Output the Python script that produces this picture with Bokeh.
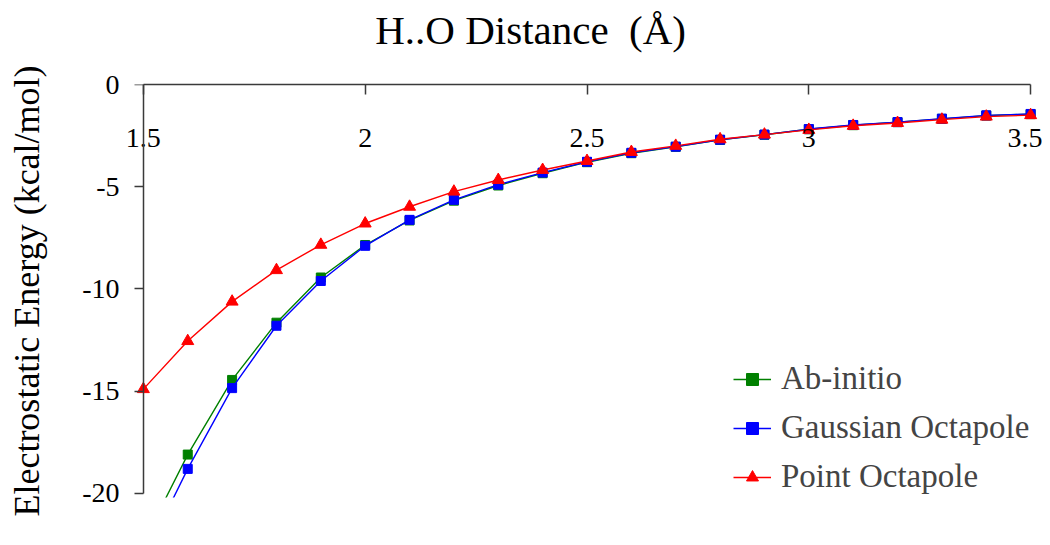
from bokeh.plotting import figure
from bokeh.models import Range1d, LinearAxis, FixedTicker, Legend, LegendItem
from bokeh.embed import file_html
from bokeh.resources import INLINE

# ---- data ----
distance = [1.5, 1.6, 1.7, 1.8, 1.9, 2.0, 2.1, 2.2, 2.3, 2.4, 2.5,
            2.6, 2.7, 2.8, 2.9, 3.0, 3.1, 3.2, 3.3, 3.4, 3.5]
ab_initio = [-22.4, -18.1, -14.45, -11.65, -9.44, -7.85, -6.65, -5.68, -4.94, -4.34, -3.80,
             -3.36, -3.05, -2.71, -2.46, -2.19, -1.99, -1.84, -1.68, -1.52, -1.45]
gaussian = [-23.2, -18.8, -14.85, -11.8, -9.61, -7.89, -6.62, -5.64, -4.90, -4.31, -3.78,
            -3.34, -3.04, -2.70, -2.45, -2.18, -1.98, -1.84, -1.67, -1.51, -1.44]
point_oct = [-14.9, -12.55, -10.62, -9.08, -7.84, -6.80, -5.98, -5.24, -4.67, -4.18, -3.74,
             -3.30, -3.00, -2.68, -2.45, -2.22, -2.02, -1.88, -1.72, -1.57, -1.50]

x_ticks = [1.5, 2.0, 2.5, 3.0, 3.5]
x_tick_labels = ["1.5", "2", "2.5", "3", "3.5"]
y_ticks = [-20, -15, -10, -5, 0]
y_tick_labels = ["-20", "-15", "-10", "-5", "0"]

title_text = "H..O Distance \u00a0(\u00c5)"
y_label = "Electrostatic Energy (kcal/mol)"
series_names = ["Ab-initio", "Gaussian Octapole", "Point Octapole"]

FONT = "Liberation Serif"
AXIS_COLOR = "#3a3a3a"

p = figure(width=1042, height=537,
           x_range=Range1d(1.48, 3.52), y_range=Range1d(-20.2, 0),
           x_axis_location=None, y_axis_location=None,
           output_backend="svg", toolbar_location=None,
           min_border_left=134, min_border_right=3,
           min_border_top=84, min_border_bottom=40)
p.title.visible = False
p.outline_line_color = None
p.grid.visible = False
p.background_fill_color = "white"
p.border_fill_color = "white"

xaxis = LinearAxis(ticker=FixedTicker(ticks=x_ticks),
                   major_label_overrides=dict(zip(x_ticks, x_tick_labels)),
                   bounds=(1.5, 3.5),
                   major_tick_in=10, major_tick_out=0,
                   minor_tick_in=0, minor_tick_out=0,
                   major_label_standoff=-62,
                   axis_line_color=AXIS_COLOR, axis_line_width=1.5,
                   major_tick_line_color=AXIS_COLOR, major_tick_line_width=1.5,
                   major_label_text_font=FONT, major_label_text_font_size="28px",
                   major_label_text_color="black")
p.add_layout(xaxis, "above")

# invisible axis that only carries the chart title
# (trailing no-break spaces shift the centred title left, as in the original)
title_axis = LinearAxis(ticker=FixedTicker(ticks=[]),
                        axis_line_color=None, major_tick_line_color=None,
                        minor_tick_line_color=None,
                        major_tick_in=0, major_tick_out=0,
                        minor_tick_in=0, minor_tick_out=0,
                        axis_label=title_text + "\u00a0" * 11, axis_label_standoff=32,
                        axis_label_text_font=FONT, axis_label_text_font_size="41px",
                        axis_label_text_font_style="normal", axis_label_text_color="black")
p.add_layout(title_axis, "above")

# label-only axis at the frame edge (tick labels + axis title)
ylabels = LinearAxis(ticker=FixedTicker(ticks=y_ticks),
                     major_label_overrides=dict(zip(y_ticks, y_tick_labels)),
                     axis_line_color=None, major_tick_line_color=None,
                     minor_tick_line_color=None,
                     major_tick_in=0, major_tick_out=0,
                     minor_tick_in=0, minor_tick_out=0,
                     major_label_standoff=15,
                     major_label_text_font=FONT, major_label_text_font_size="28px",
                     major_label_text_color="black",
                     axis_label=y_label, axis_label_standoff=32,
                     axis_label_text_font=FONT, axis_label_text_font_size="36px",
                     axis_label_text_font_style="normal", axis_label_text_color="black")
p.add_layout(ylabels, "left")

# axis line and ticks fixed at x = 1.5
yaxis = LinearAxis(ticker=FixedTicker(ticks=y_ticks),
                   major_label_overrides={t: "" for t in y_ticks},
                   bounds=(-20, 0), fixed_location=1.5,
                   major_tick_in=0, major_tick_out=10,
                   minor_tick_in=0, minor_tick_out=0,
                   major_label_standoff=0,
                   axis_line_color=AXIS_COLOR, axis_line_width=1.5,
                   major_tick_line_color=AXIS_COLOR, major_tick_line_width=1.5,
                   major_label_text_font_size="1px")
p.add_layout(yaxis, "left")

l1 = p.line(distance, ab_initio, line_color="#008000", line_width=1.4)
s1 = p.scatter(distance, ab_initio, marker="square", size=9, color="#008000")
l2 = p.line(distance, gaussian, line_color="#0000ff", line_width=1.4)
s2 = p.scatter(distance, gaussian, marker="square", size=9, color="#0000ff")
l3 = p.line(distance, point_oct, line_color="#ff0000", line_width=1.4)
s3 = p.scatter(distance, point_oct, marker="triangle", size=12, color="#ff0000")

legend = Legend(items=[LegendItem(label=series_names[0], renderers=[l1, s1]),
                       LegendItem(label=series_names[1], renderers=[l2, s2]),
                       LegendItem(label=series_names[2], renderers=[l3, s3])],
                location=(599, 2), border_line_color=None, background_fill_alpha=0,
                label_text_font=FONT, label_text_font_size="33px",
                glyph_width=38, glyph_height=30, label_height=30,
                spacing=12, padding=0, margin=0, label_standoff=10)
p.add_layout(legend, "center")

open("out.html", "w").write(file_html(p, INLINE))
